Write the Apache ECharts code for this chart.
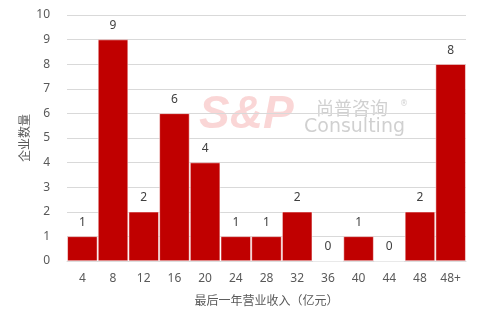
<!DOCTYPE html>
<html><head><meta charset="utf-8">
<script src="https://cdn.jsdelivr.net/npm/echarts@6/dist/echarts.min.js"></script>
<style>html,body{margin:0;padding:0;background:#fff}#c{width:480px;height:327px}</style>
</head><body><div id="c"></div>
<script>
const categories = ['4','8','12','16','20','24','28','32','36','40','44','48','48+'];
const values = [1,9,2,6,4,1,1,2,0,1,0,2,8];
const yTicks = [0,1,2,3,4,5,6,7,8,9,10];
const xName = '最后一年营业收入（亿元）';
const yName = '企业数量';

const chart = echarts.init(document.getElementById('c'), null, {renderer:'canvas'});
chart.setOption({
  animation:false,
  grid:{left:67, right:14, top:15, bottom:66},
  graphic:[
    {type:'text', left:199, top:92, z:0, style:{text:'S&P', font:'italic 900 46px "Liberation Sans", Arial', fill:'rgba(230,70,70,0.22)'}},
    {type:'text', left:316, top:99, z:0, style:{text:'尚普咨询', font:'18px "Noto Sans CJK SC"', fill:'rgba(150,150,150,0.45)', letterSpacing:5}},
    {type:'text', left:304, top:118, z:0, style:{text:'Consulting', font:'19px "DejaVu Sans"', fill:'rgba(150,150,150,0.45)', letterSpacing:1}},
    {type:'text', left:400, top:100, z:0, style:{text:'®', font:'8px "DejaVu Sans"', fill:'rgba(150,150,150,0.45)'}}
  ],
  xAxis:{
    type:'category', data:categories,
    name:xName, nameLocation:'middle', nameGap:33, nameMoveOverlap:false,
    nameTextStyle:{color:'#595959', fontSize:12, fontFamily:'Noto Sans CJK SC'},
    axisLine:{lineStyle:{color:'#d9d9d9'}}, axisTick:{show:false},
    axisLabel:{color:'#595959', fontSize:12, margin:12, fontFamily:'Noto Sans'}
  },
  yAxis:{
    type:'value', min:0, max:10, interval:1,
    name:yName, nameLocation:'middle', nameGap:37, nameRotate:90, nameMoveOverlap:false,
    nameTextStyle:{color:'#595959', fontSize:12, fontFamily:'Noto Sans CJK SC'},
    axisLine:{show:false}, axisTick:{show:false},
    axisLabel:{color:'#595959', fontSize:12, margin:17, fontFamily:'Noto Sans'},
    splitLine:{lineStyle:{color:'#d9d9d9'}}
  },
  series:[{
    type:'bar', data:values, barCategoryGap:'2%', z:2,
    itemStyle:{color:'#c00000', borderColor:'#fff', borderWidth:0.5},
    label:{show:true, position:'top', distance:8, color:'#404040', fontSize:12, fontFamily:'Noto Sans'}
  }]
});
</script></body></html>
